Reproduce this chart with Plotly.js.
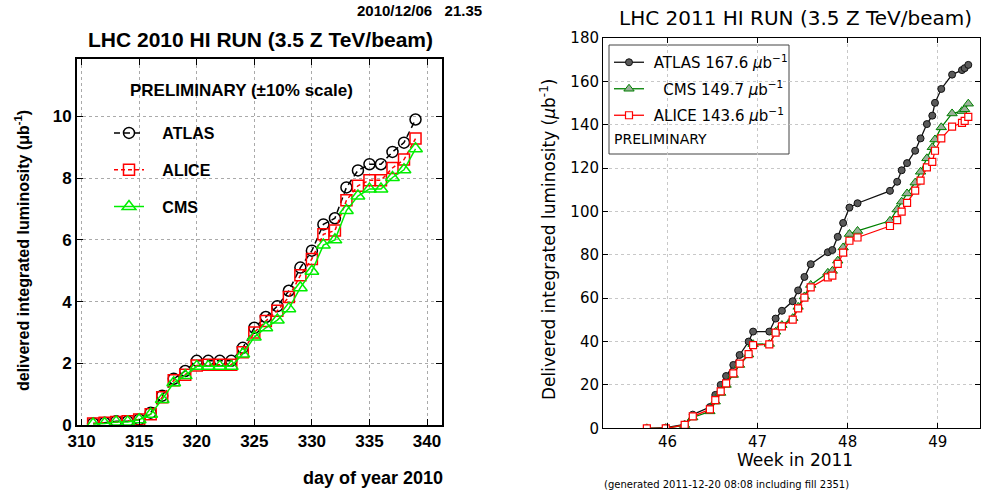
<!DOCTYPE html>
<html><head><meta charset="utf-8">
<script src="https://cdn.plot.ly/plotly-3.0.1.min.js"></script>
<style>html,body{margin:0;padding:0;background:#fff;}#chart{width:982px;height:495px;}</style>
</head><body><div id="chart"></div>
<script>
// ---- 2010 run (left) ----
const days2010 = [311,312,313,314,315,316,317,318,319,320,321,322,323,324,325,326,327,328,329,330,331,332,333,334,335,336,337,338,339];
const atlas2010 = [0.05,0.07,0.12,0.12,0.18,0.4,0.95,1.5,1.75,2.08,2.08,2.08,2.08,2.5,3.15,3.5,3.85,4.35,5.1,5.65,6.5,6.7,7.7,8.25,8.45,8.45,8.85,9.15,9.9];
const alice2010 = [0.05,0.07,0.1,0.12,0.18,0.35,0.9,1.45,1.63,1.93,1.95,1.95,1.95,2.36,3.0,3.37,3.7,4.15,4.85,5.38,6.18,6.3,7.28,7.75,7.93,7.93,8.33,8.6,9.28];
const cms2010 = [0.03,0.05,0.1,0.1,0.17,0.35,0.83,1.37,1.6,1.9,1.9,1.9,1.9,2.3,2.85,3.15,3.4,3.77,4.45,4.98,5.83,6.0,6.95,7.42,7.65,7.65,8.02,8.27,8.95];
const xticks2010 = [310,315,320,325,330,335,340];
const yticks2010 = [0,2,4,6,8,10];

// ---- 2011 run (right) ----
const weeks2011 = [45.77,45.98,46.19,46.28,46.47,46.53,46.59,46.65,46.73,46.80,46.90,46.95,47.13,47.20,47.27,47.39,47.45,47.52,47.59,47.78,47.83,47.89,47.95,48.02,48.11,48.47,48.55,48.60,48.66,48.75,48.81,48.88,48.94,48.97,49.04,49.16,49.27,49.30,49.34];
const atlas2011 = [0,0.3,1.8,6.3,9.8,15.4,20.0,24.1,29.2,33.8,40.0,44.6,44.6,50.6,54.2,58.6,63.6,69.8,75.7,81.2,82.2,88.3,94.7,101.8,103.8,109.5,113.7,119.0,122.3,128.0,133.7,140.3,144.2,150.1,156.5,163.1,165.2,166.1,167.6];
const cms2011 = [0,0,1.5,5.0,7.8,12.3,16.3,20.0,24.6,29.2,34.0,38.8,38.9,44.5,47.6,50.8,56.0,60.8,66.1,71.7,72.6,77.3,83.4,89.6,91.0,95.7,100.9,104.5,108.3,113.3,118.3,124.5,129.6,133.2,138.8,145.2,146.3,147.1,149.7];
const alice2011 = [0,0,1.6,5.5,8.7,13.0,17.0,20.7,25.3,29.8,34.2,38.4,38.7,44.1,47.0,50.1,55.3,60.3,65.0,69.6,70.4,75.8,81.0,86.5,88.0,93.3,96.0,99.9,104.0,109.6,114.2,120.3,122.9,128.0,133.7,139.1,140.9,141.8,143.6];
const xticks2011 = [46,47,48,49];
const yticks2011 = [0,20,40,60,80,100,120,140,160,180];
const totals2011 = {atlas:"167.6", cms:"149.7", alice:"143.6"};

const W = 982, H = 495;
const px = x => x / W;
const py = y => 1 - y / H;

const LF = "Liberation Sans, Arial, sans-serif";
const DF = "DejaVu Sans, sans-serif";
const S = '\u00a0';

const traces = [
  {x: days2010, y: atlas2010, xaxis:'x', yaxis:'y', name:S+S+S+'ATLAS', legend:'legend', legendgroup:'a1',
   mode:'lines+markers', line:{color:'#000', width:1.5, dash:'6px,4px'},
   marker:{symbol:'circle-open', size:11, color:'#000', line:{width:1.5}}},
  {x: days2010, y: alice2010, xaxis:'x', yaxis:'y', name:S+S+S+'ALICE', legend:'legend', legendgroup:'a2',
   mode:'lines+markers', line:{color:'#ff0000', width:1.5, dash:'4px,3px'},
   marker:{symbol:'square-open', size:11, color:'#ff0000', line:{width:1.5}}},
  {x: days2010, y: cms2010, xaxis:'x', yaxis:'y', name:S+S+S+'CMS', legend:'legend', legendgroup:'a3',
   mode:'lines+markers', line:{color:'#00ee00', width:1.5},
   marker:{symbol:'triangle-up-open', size:12, color:'#00ee00', line:{width:1.5}}},

  {x: weeks2011, y: atlas2011, xaxis:'x2', yaxis:'y2', name:S+'ATLAS '+totals2011.atlas+' <i>μ</i>b<sup>−1</sup>', legend:'legend2', legendgroup:'b1',
   mode:'lines+markers', line:{color:'#111', width:1.3},
   marker:{symbol:'circle', size:7, color:'#5a5a5a', line:{color:'#111', width:1}}},
  {x: weeks2011, y: cms2011, xaxis:'x2', yaxis:'y2', name:S+S+S+'CMS '+totals2011.cms+' <i>μ</i>b<sup>−1</sup>', legend:'legend2', legendgroup:'b2',
   mode:'lines+markers', line:{color:'#008000', width:1.3},
   marker:{symbol:'triangle-up', size:9, color:'#9aae9a', line:{color:'#008000', width:1}}},
  {x: weeks2011, y: alice2011, xaxis:'x2', yaxis:'y2', name:S+'ALICE '+totals2011.alice+' <i>μ</i>b<sup>−1</sup>', legend:'legend2', legendgroup:'b3',
   mode:'lines+markers', line:{color:'#ff0000', width:1.3},
   marker:{symbol:'square', size:7, color:'#ffffff', line:{color:'#ff0000', width:1.2}}}
];

const layout = {
  width: W, height: H,
  margin: {l:0, r:0, t:0, b:0},
  paper_bgcolor:'#fff', plot_bgcolor:'#fff',
  showlegend: true,
  xaxis: {domain:[px(77), px(442)], range:[309.6, 341.3], tickvals: xticks2010,
    showline:true, linecolor:'#000', linewidth:2, mirror:'ticks', ticks:'inside', ticklen:6, tickcolor:'#000',
    showgrid:true, gridcolor:'#aaa', griddash:'dot', gridwidth:1, zeroline:false,
    tickfont:{family:LF, size:17, color:'#000', weight:'bold'}, anchor:'y'},
  yaxis: {domain:[py(425), py(59)], range:[0, 11.86], tickvals: yticks2010,
    showline:true, linecolor:'#000', linewidth:2, mirror:'ticks', ticks:'inside', ticklen:6, tickcolor:'#000',
    showgrid:true, gridcolor:'#aaa', griddash:'dot', gridwidth:1, zeroline:false,
    tickfont:{family:LF, size:17, color:'#000', weight:'bold'}, anchor:'x'},
  xaxis2: {domain:[px(603), px(980)], range:[45.283, 49.47], tickvals: xticks2011,
    showline:true, linecolor:'#000', linewidth:1, mirror:'ticks', ticks:'inside', ticklen:5, tickcolor:'#000',
    showgrid:true, gridcolor:'#c8c8c8', griddash:'dot', gridwidth:1, zeroline:false,
    tickfont:{family:DF, size:15, color:'#000'}, anchor:'y2'},
  yaxis2: {domain:[py(428.3), py(38)], range:[0, 180], tickvals: yticks2011,
    showline:true, linecolor:'#000', linewidth:1, mirror:'ticks', ticks:'inside', ticklen:5, tickcolor:'#000',
    showgrid:true, gridcolor:'#c8c8c8', griddash:'dot', gridwidth:1, zeroline:false,
    tickfont:{family:DF, size:15, color:'#000'}, anchor:'x2'},
  legend: {x: px(109), y: py(116), xanchor:'left', yanchor:'top', bgcolor:'rgba(0,0,0,0)', borderwidth:0,
    font:{family:LF, size:16, color:'#000', weight:'bold'}, tracegroupgap:13, itemwidth:30},
  legend2: {x: px(609), y: py(46), xanchor:'left', yanchor:'top', bgcolor:'rgba(0,0,0,0)', borderwidth:0,
    font:{family:DF, size:15, color:'#000'}, tracegroupgap:4, itemwidth:30},
  shapes: [
    {type:'rect', xref:'paper', yref:'paper', x0:px(609), x1:px(789), y0:py(45), y1:py(154),
     line:{color:'#444', width:1}, fillcolor:'#fff', layer:'between'}
  ],
  annotations: [
    {xref:'paper', yref:'paper', x:px(484), y:py(10), xanchor:'right', yanchor:'middle', showarrow:false,
     text:'2010/12/06'+S+S+S+'21.35', font:{family:LF, size:15, color:'#000', weight:'bold'}},
    {xref:'paper', yref:'paper', x:px(260), y:py(40), xanchor:'center', yanchor:'middle', showarrow:false,
     text:'LHC 2010 HI RUN (3.5 Z TeV/beam)', font:{family:LF, size:21, color:'#000', weight:'bold'}},
    {xref:'paper', yref:'paper', x:px(241), y:py(90), xanchor:'center', yanchor:'middle', showarrow:false,
     text:'PRELIMINARY (±10% scale)', font:{family:LF, size:17, color:'#000', weight:'bold'}},
    {xref:'paper', yref:'paper', x:px(22), y:py(251), xanchor:'center', yanchor:'middle', showarrow:false, textangle:-90,
     text:'delivered integrated luminosity (μb<sup>-1</sup>)', font:{family:LF, size:16, color:'#000', weight:'bold'}},
    {xref:'paper', yref:'paper', x:px(373), y:py(478), xanchor:'center', yanchor:'middle', showarrow:false,
     text:'day of year 2010', font:{family:LF, size:18, color:'#000', weight:'bold'}},

    {xref:'paper', yref:'paper', x:px(795), y:py(18), xanchor:'center', yanchor:'middle', showarrow:false,
     text:'LHC 2011 HI RUN (3.5 Z TeV/beam)', font:{family:DF, size:20, color:'#000'}},
    {xref:'paper', yref:'paper', x:px(548), y:py(240), xanchor:'center', yanchor:'middle', showarrow:false, textangle:-90,
     text:'Delivered integrated luminosity (<i>μ</i>b<sup>-1</sup>)', font:{family:DF, size:17, color:'#000'}},
    {xref:'paper', yref:'paper', x:px(795), y:py(460), xanchor:'center', yanchor:'middle', showarrow:false,
     text:'Week in 2011', font:{family:DF, size:17, color:'#000'}},
    {xref:'paper', yref:'paper', x:px(602), y:py(484), xanchor:'left', yanchor:'middle', showarrow:false,
     text:'(generated 2011-12-20 08:08 including fill 2351)', font:{family:DF, size:10, color:'#000'}},
    {xref:'paper', yref:'paper', x:px(612), y:py(139), xanchor:'left', yanchor:'middle', showarrow:false,
     text:'PRELIMINARY', font:{family:DF, size:14, color:'#000'}}
  ]
};

Plotly.newPlot('chart', traces, layout, {displayModeBar:false, staticPlot:true});
</script></body></html>
